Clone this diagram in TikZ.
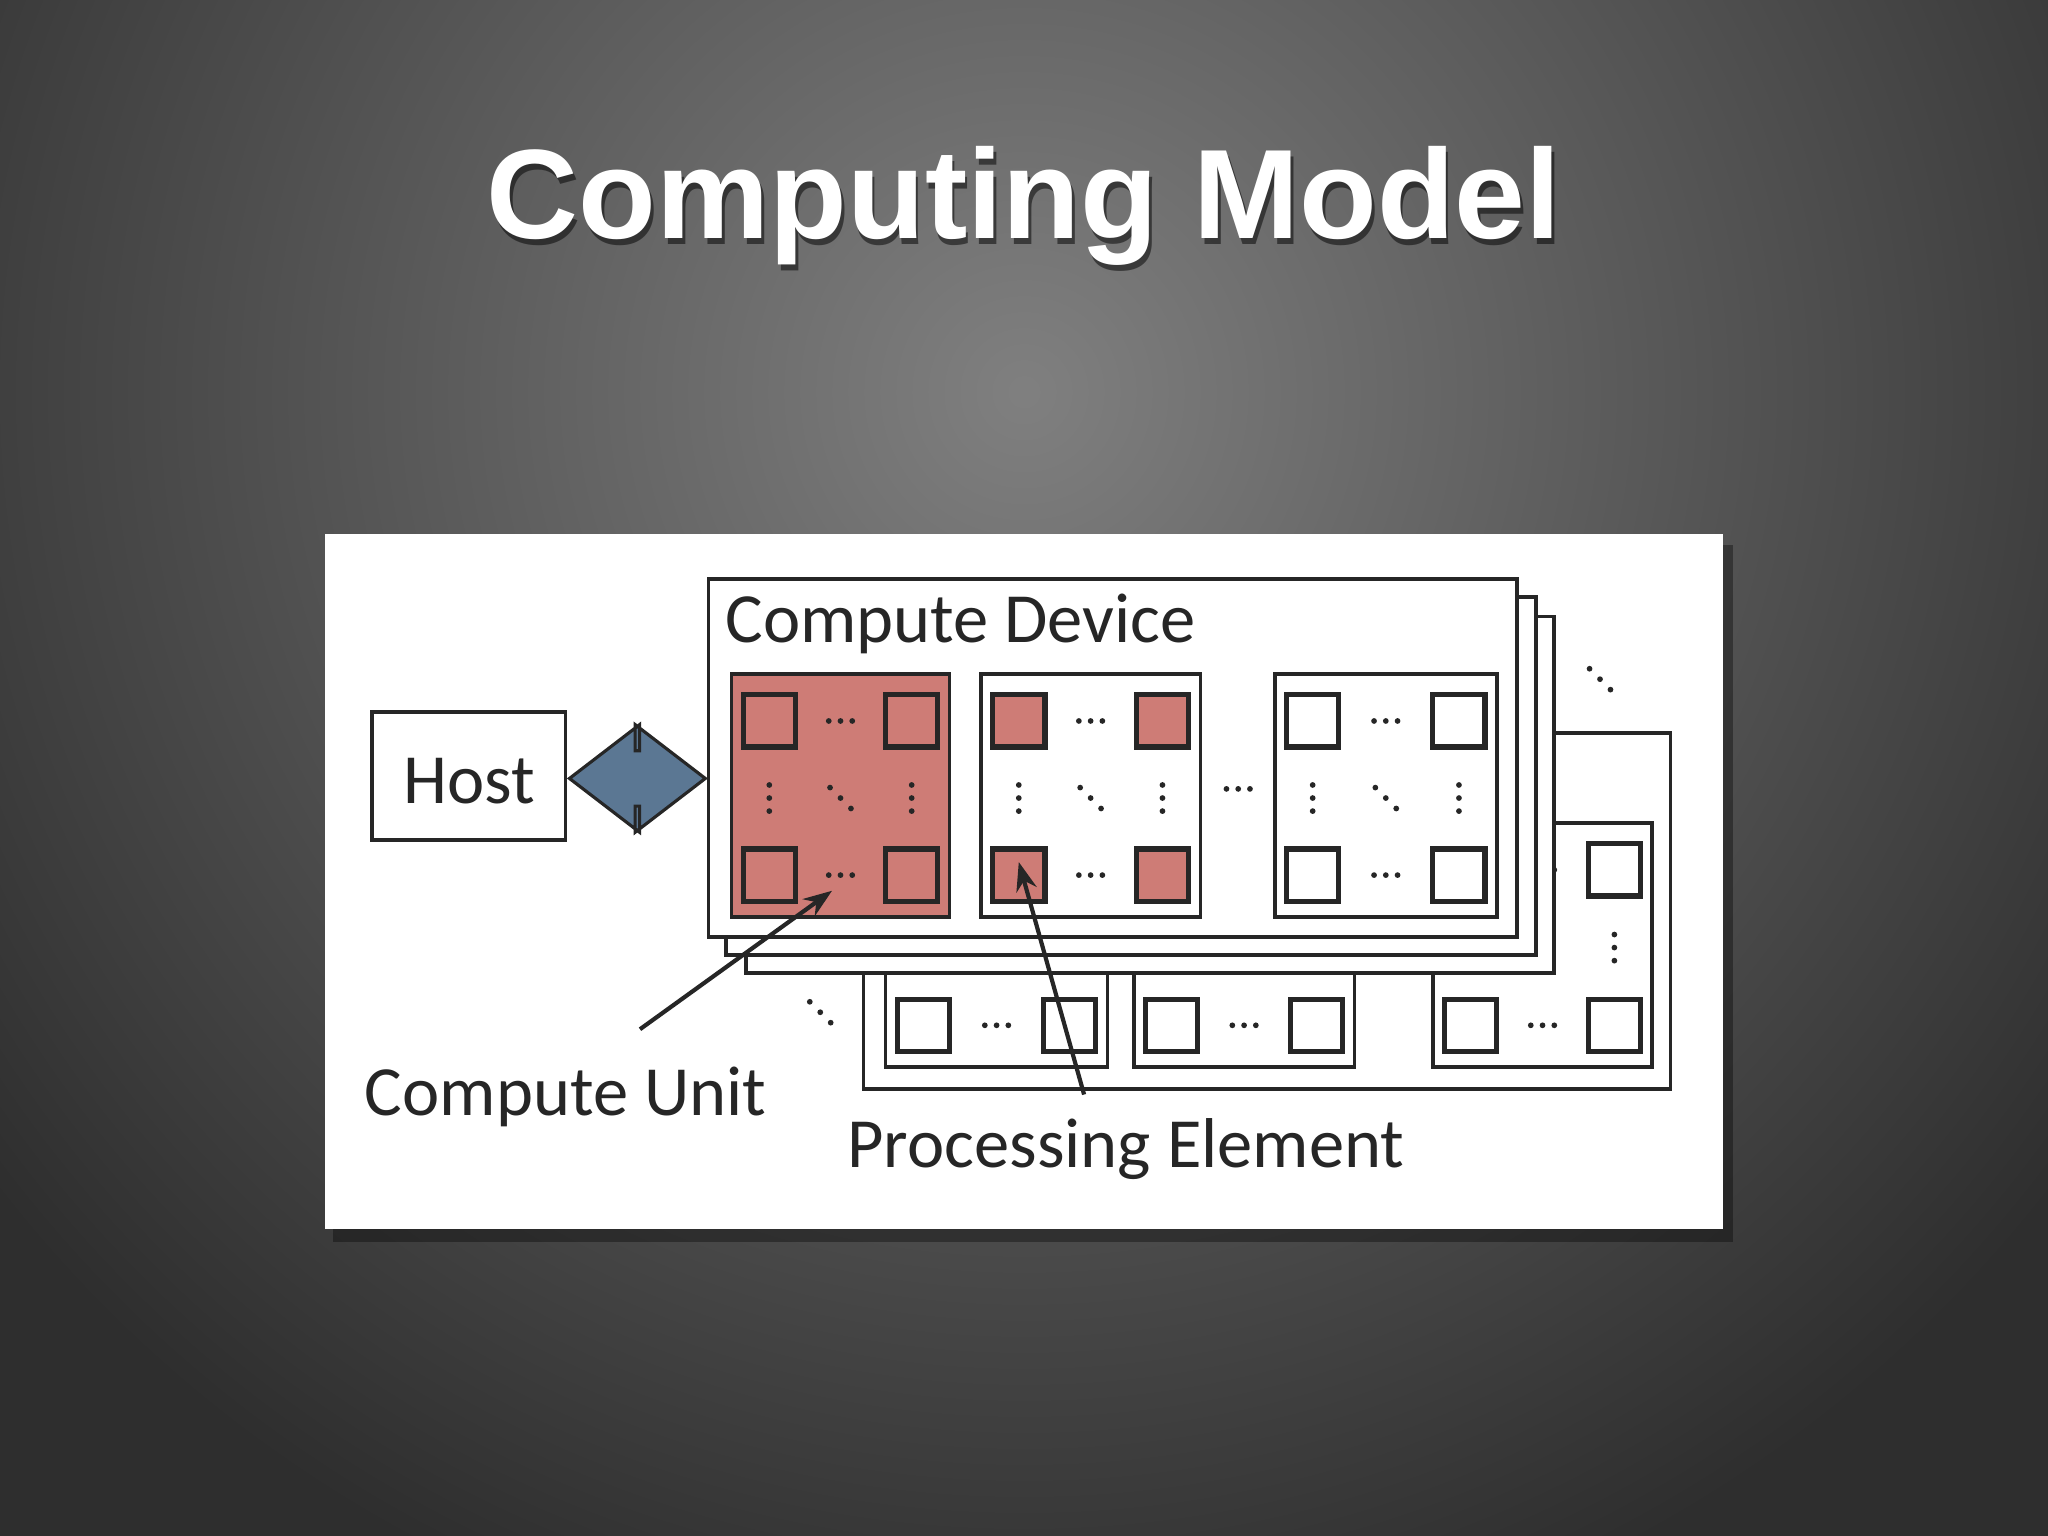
\documentclass[tikz,border=0pt]{standalone}
\usepackage{fontspec}
\setmainfont{Carlito}
\newfontfamily\titlefont{Liberation Sans}
\usetikzlibrary{arrows.meta,shapes.arrows}
\definecolor{cured}{HTML}{CE7C76}
\definecolor{arrowblue}{HTML}{5B7793}
\tikzset{
  box/.style={draw=black!85,line width=1.4pt,fill=white},
  pe/.style={draw=black!85,line width=2pt},
  lab/.style={font=\fontsize{27}{27}\selectfont,text=black!85,inner sep=0pt},
  ptr/.style={draw=black!85,line width=1.6pt,-{Stealth[length=11pt,width=8pt]}},
  dotc/.style={fill=black!85}
}
\newcommand\hdd[2]{\foreach \k in {-9,0,9}{\fill[dotc] ({#1+\k},{#2}) circle (2.2);}}
\newcommand\vdd[2]{\foreach \k in {-10,0,10}{\fill[dotc] ({#1},{#2+\k}) circle (2.2);}}
\newcommand\ddd[2]{\foreach \k in {-8,0,8}{\fill[dotc] ({#1+\k},{#2+\k}) circle (2.2);}}
% CU: a b c d cufill pefill
\newcommand\drawcu[6]{%
  \draw[box,fill=#5] (#1,#2) rectangle (#3,#4);
  \draw[pe,fill=#6] ({#1+9},{#2+16}) rectangle ({#1+49},{#2+56});
  \draw[pe,fill=#6] ({#3-49},{#2+16}) rectangle ({#3-9},{#2+56});
  \draw[pe,fill=#6] ({#1+9},{#4-52}) rectangle ({#1+49},{#4-12});
  \draw[pe,fill=#6] ({#3-49},{#4-52}) rectangle ({#3-9},{#4-12});
  \hdd{(#1+#3)/2}{#2+36}
  \hdd{(#1+#3)/2}{#4-32}
  \vdd{#1+29}{(#2+#4)/2+2}
  \vdd{#3-29}{(#2+#4)/2+2}
  \ddd{(#1+#3)/2}{(#2+#4)/2+2}
}
\begin{document}
\begin{tikzpicture}[x=0.5pt,y=-0.5pt]
\useasboundingbox (0,0) rectangle (1568,1176);
\fill[black!82] (0,0) rectangle (1568,1176);
\begin{scope}
\clip (0,0) rectangle (1568,1176);
\shade[inner color=black!50,outer color=black!82] (784,300) circle (1000);
\end{scope}
% title
\node[font=\titlefont\bfseries\fontsize{48.7}{50}\selectfont,text=black,opacity=.5] at (786,162) {Computing Model};
\node[font=\titlefont\bfseries\fontsize{48.7}{50}\selectfont,text=white] (title) at (784,158) {Computing Model};
% panel
\fill[black,opacity=.35] (255,417) rectangle (1327,951);
\fill[white] (249,409) rectangle (1319,941);
% back device
\draw[box] (661,561) rectangle (1279,834);
\drawcu{678}{630}{848}{817}{white}{white}
\drawcu{868}{630}{1037}{817}{white}{white}
\drawcu{1097}{630}{1265}{817}{white}{white}
\ddd{628}{775}
\ddd{1225}{520}
% stacked device layers
\draw[box] (571,472) rectangle (1190,745);
\draw[box] (556,457) rectangle (1176,731);
\node[box,minimum width=309.5pt,minimum height=137pt,anchor=north west,inner sep=0pt] (dev) at (541,442) {};
\node[lab,anchor=base west] (devlab) at (555,492) {Compute Device};
\drawcu{560}{516}{727}{702}{cured}{cured}
\drawcu{751}{516}{919}{702}{white}{cured}
\drawcu{976}{516}{1146}{702}{white}{white}
\hdd{948}{604}
% host
\node[box,minimum width=74pt,minimum height=49pt,inner sep=0pt] (host) at (359,594) {};
\node[lab] at (359,598) {Host};
% double arrow
\node[double arrow,fill=arrowblue,draw=black!85,line width=1.2pt,minimum height=52pt,inner xsep=0pt,inner ysep=10pt,double arrow head extend=10pt,double arrow tip angle=75] (link) at (488,596) {};
% labels and pointers
\node[lab] (culab) at (433,840) {Compute Unit};
\node[lab] (pelab) at (862,880) {Processing Element};
\coordinate (cuend) at (637,682);
\coordinate (peend) at (780,660);
\coordinate (custart) at (490,788);
\coordinate (pestart) at (830,838);
\draw[ptr] (custart) -- (cuend);
\draw[ptr] (pestart) -- (peend);
\end{tikzpicture}
\end{document}
